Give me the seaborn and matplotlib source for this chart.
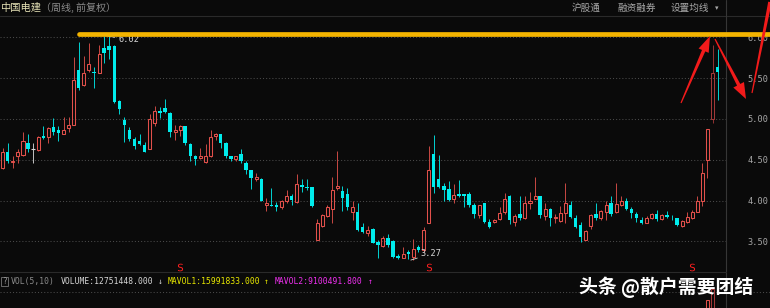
import numpy as np
import pandas as pd
import matplotlib
matplotlib.use("Agg")
import matplotlib.pyplot as plt
import seaborn as sns
from matplotlib.patches import Polygon, Rectangle

# ---------------- data (weekly, forward adjusted) ----------------
opens = [4.40, 4.60, 4.47, 4.55, 4.56, 4.71, 4.63, 4.62, 4.79, 4.78,
         4.90, 4.86, 4.82, 4.89, 4.93, 5.60, 5.42, 5.60, 5.58, 5.56,
         5.87, 5.89, 5.89, 5.22, 4.99, 4.86, 4.75, 4.73, 4.68, 4.63,
         4.95, 5.10, 5.13, 5.07, 4.84, 4.87, 4.91, 4.69, 4.54, 4.52,
         4.47, 4.54, 4.79, 4.82, 4.71, 4.55, 4.51, 4.57, 4.46, 4.37,
         4.26, 4.26, 3.95, 3.95, 3.95, 3.92, 3.99, 4.05, 3.98, 4.19,
         4.17, 4.16, 3.52, 3.69, 3.81, 3.90, 4.15, 4.12, 4.08, 3.86,
         3.86, 3.67, 3.60, 3.65, 3.49, 3.44, 3.54, 3.50, 3.32, 3.30,
         3.37, 3.31, 3.43, 3.39, 3.72, 4.57, 4.26, 4.18, 4.14, 4.02,
         4.08, 4.08, 4.08, 3.95, 3.82, 3.97, 3.74, 3.74, 3.77, 3.86,
         4.06, 3.74, 3.83, 3.78, 3.97, 4.02, 4.05, 3.81, 3.90, 3.78,
         3.75, 3.85, 3.94, 3.79, 3.70, 3.52, 3.69, 3.83, 3.78, 3.86,
         3.97, 3.86, 3.95, 3.99, 3.89, 3.84, 3.76, 3.73, 3.78, 3.83,
         3.77, 3.82, 3.79, 3.78, 3.69, 3.74, 3.78, 3.86, 3.99, 4.50,
         5.00, 5.63]
highs = [4.64, 4.70, 4.55, 4.63, 4.84, 4.82, 4.70, 4.79, 4.91, 4.90,
         5.01, 4.91, 5.02, 5.02, 5.76, 5.94, 5.77, 5.93, 5.64, 5.91,
         6.02, 6.01, 5.91, 5.23, 5.02, 4.90, 4.78, 4.82, 4.72, 5.06,
         5.16, 5.15, 5.24, 5.08, 4.93, 4.93, 4.91, 4.70, 4.56, 4.64,
         4.69, 4.86, 4.83, 4.82, 4.72, 4.55, 4.55, 4.63, 4.48, 4.37,
         4.34, 4.27, 4.03, 4.15, 3.98, 4.01, 4.13, 4.08, 4.33, 4.26,
         4.26, 4.17, 3.77, 3.83, 3.95, 4.29, 4.61, 4.18, 4.15, 4.00,
         3.97, 3.73, 3.69, 3.66, 3.51, 3.57, 3.59, 3.51, 3.34, 3.43,
         3.39, 3.53, 3.46, 3.68, 4.67, 4.80, 4.56, 4.21, 4.24, 4.20,
         4.25, 4.08, 4.10, 3.97, 3.95, 3.97, 3.77, 3.77, 3.92, 4.09,
         4.07, 3.83, 4.05, 4.05, 4.10, 4.29, 4.06, 3.97, 3.91, 3.83,
         3.93, 4.22, 4.00, 3.82, 3.74, 3.64, 3.84, 3.97, 3.88, 4.00,
         4.05, 4.21, 4.06, 4.03, 3.92, 3.86, 3.80, 3.81, 3.85, 3.88,
         3.84, 3.87, 3.82, 3.79, 3.76, 3.86, 3.88, 4.06, 4.46, 4.88,
         5.91, 5.86]
lows = [4.39, 4.46, 4.40, 4.46, 4.55, 4.60, 4.46, 4.61, 4.75, 4.71,
        4.80, 4.73, 4.82, 4.84, 4.93, 5.36, 5.40, 5.58, 5.38, 5.56,
        5.69, 5.74, 5.20, 5.06, 4.72, 4.73, 4.63, 4.68, 4.60, 4.63,
        4.91, 5.01, 5.07, 4.78, 4.74, 4.79, 4.68, 4.49, 4.44, 4.51,
        4.46, 4.53, 4.74, 4.64, 4.52, 4.49, 4.48, 4.46, 4.33, 4.14,
        4.24, 3.99, 3.87, 3.93, 3.87, 3.90, 3.97, 3.95, 3.97, 4.11,
        4.13, 3.92, 3.51, 3.68, 3.80, 3.72, 4.13, 3.87, 3.88, 3.76,
        3.63, 3.60, 3.56, 3.48, 3.29, 3.43, 3.43, 3.30, 3.28, 3.29,
        3.28, 3.27, 3.37, 3.37, 3.72, 4.09, 4.15, 3.99, 3.99, 3.97,
        4.04, 3.92, 3.92, 3.79, 3.79, 3.72, 3.66, 3.72, 3.76, 3.84,
        3.71, 3.69, 3.76, 3.77, 3.89, 4.02, 3.79, 3.76, 3.69, 3.72,
        3.74, 3.73, 3.78, 3.66, 3.49, 3.52, 3.65, 3.76, 3.76, 3.76,
        3.81, 3.85, 3.93, 3.88, 3.79, 3.74, 3.71, 3.72, 3.77, 3.75,
        3.76, 3.78, 3.76, 3.69, 3.68, 3.73, 3.77, 3.86, 3.93, 4.28,
        4.95, 5.23]
closes = [4.60, 4.48, 4.48, 4.60, 4.73, 4.63, 4.63, 4.78, 4.76, 4.89,
          4.84, 4.83, 4.87, 4.92, 5.48, 5.38, 5.56, 5.67, 5.56, 5.80,
          5.81, 5.85, 5.21, 5.12, 4.92, 4.75, 4.67, 4.69, 4.60, 5.00,
          5.10, 5.07, 5.08, 4.84, 4.87, 4.91, 4.70, 4.55, 4.51, 4.55,
          4.55, 4.78, 4.82, 4.70, 4.54, 4.51, 4.55, 4.48, 4.37, 4.27,
          4.29, 4.00, 3.97, 3.93, 3.92, 3.99, 4.05, 4.01, 4.20, 4.16,
          4.15, 3.93, 3.72, 3.82, 3.92, 4.13, 4.18, 4.03, 3.92, 3.92,
          3.64, 3.62, 3.64, 3.48, 3.45, 3.54, 3.46, 3.31, 3.29, 3.35,
          3.35, 3.40, 3.39, 3.64, 4.37, 4.17, 4.17, 4.13, 4.01, 4.07,
          4.05, 4.05, 3.94, 3.84, 3.94, 3.74, 3.68, 3.76, 3.85, 4.02,
          3.76, 3.81, 3.78, 3.97, 3.99, 4.05, 3.82, 3.90, 3.78, 3.80,
          3.85, 3.97, 3.80, 3.68, 3.55, 3.63, 3.82, 3.78, 3.87, 3.94,
          3.83, 3.96, 3.99, 3.90, 3.85, 3.78, 3.73, 3.79, 3.84, 3.77,
          3.82, 3.80, 3.78, 3.70, 3.75, 3.80, 3.86, 4.00, 4.34, 4.88,
          5.56, 5.57]
sell_signals = [35, 84, 136]
peak_label, peak_idx = "6.02", 20
trough_label, trough_idx = "3.27", 81
vol_tail = [2.5e6, 7.0e6, 23.7e6, 34.0e6, 12751448.0]   # last five weeks
y_ticks = [3.50, 4.00, 4.50, 5.00, 5.50, 6.00]
stock_name = "中国电建"
period_text = "（周线, 前复权）"
tabs = ["沪股通", "融资融券", "设置均线"]
vol_texts = [("VOL(5,10)", "#8c8c8c"), ("VOLUME:12751448.000", "#d6d6d6"),
             ("\u2193", "#d6d6d6"), ("MAVOL1:15991833.000", "#e8e800"),
             ("\u2191", "#e8e800"), ("MAVOL2:9100491.800", "#f030f0"),
             ("\u2191", "#f030f0")]
watermark = "头条 @散户需要团结"

df = pd.DataFrame({"open": opens, "high": highs, "low": lows, "close": closes})
df["idx"] = np.arange(len(df))

# ---------------- style ----------------
BG = "#0a0a0a"
RED = "#e2504b"
DARKRED = "#a23838"
CYAN = "#00ecec"
WHITE = "#d8d8d8"
W, H = 770, 308

sns.set_style("dark", {"axes.facecolor": BG, "figure.facecolor": BG})
plt.rcParams["font.family"] = ["Noto Sans CJK SC", "DejaVu Sans"]

fig = plt.figure(figsize=(W / 100, H / 100), dpi=100)
fig.patch.set_facecolor(BG)

def frac(x0, y0, x1, y1):
    return [x0 / W, 1 - y1 / H, (x1 - x0) / W, (y1 - y0) / H]

# price axes: pixel x 0..726, y 17..271
ax = fig.add_axes(frac(0, 17, 726, 271))
ax.set_facecolor(BG)
px_per_idx = 5.07
ax.set_xlim(-2.7 / px_per_idx, (726 - 2.7) / px_per_idx)
ppu = 81.6
ax.set_ylim(6 - (271 - 37.3) / ppu, 6 - (17 - 37.3) / ppu)
for s in ax.spines.values():
    s.set_visible(False)

up = df[df.close > df.open]
dn = df[df.close < df.open]
dj = df[df.close == df.open]
HL = 136 + 4  # highlighted (current) candle drawn darker
up_col = [DARKRED if i == HL else RED for i in up.idx]

wlw = 0.62
# down candles: solid cyan
ax.vlines(dn.idx, dn.low, dn.high, color=CYAN, lw=wlw, zorder=2)
ax.bar(dn.idx, dn.open - dn.close, bottom=dn.close, width=0.68,
       color=CYAN, linewidth=0, zorder=3)
# up candles: hollow red
ax.vlines(up.idx, up.close, up.high, colors=up_col, lw=wlw, zorder=2)
ax.vlines(up.idx, up.low, up.open, colors=up_col, lw=wlw, zorder=2)
ax.bar(up.idx, up.close - up.open, bottom=up.open, width=0.6, fill=False,
       edgecolor=up_col, linewidth=0.75, zorder=3)
# doji
ax.vlines(dj.idx, dj.low, dj.high, color=WHITE, lw=wlw, zorder=2)
ax.hlines(dj.close, dj.idx - 0.35, dj.idx + 0.35, color=WHITE, lw=0.8, zorder=3)

# sell signals
sig = pd.DataFrame({"idx": sell_signals, "y": [6 - (266.5 - 37.3) / ppu] * len(sell_signals)})
sns.scatterplot(data=sig, x="idx", y="y", marker="$\\mathrm{S}$", s=30, color="#ff2020",
                linewidth=0, ax=ax, legend=False, zorder=5)
ax.set_xlabel("")
ax.set_ylabel("")

ax.set_xticks([])
ax.yaxis.tick_right()
ax.set_yticks(y_ticks)
ax.set_yticklabels([f"{v:.2f}" for v in y_ticks], family="DejaVu Sans Mono")
ax.tick_params(axis="y", length=0, pad=15.2, labelsize=6.2, labelcolor="#a6a6a6")
ax.grid(axis="y", color="#4a4a4a", linestyle=(0, (1, 2)), linewidth=0.75)
ax.grid(axis="x", visible=False)

# extreme labels
ax.annotate(peak_label, xy=(peak_idx + 0.3, highs[peak_idx]), xytext=(9, -3),
            textcoords="offset points", color="#d8d8d8", fontsize=6.2,
            family="DejaVu Sans Mono", va="center", ha="left",
            arrowprops=dict(arrowstyle="-", color="#d8d8d8", lw=0.6,
                            shrinkA=0, shrinkB=0))
ax.annotate(trough_label, xy=(trough_idx - 0.5, lows[trough_idx]), xytext=(7, 4.5),
            textcoords="offset points", color="#d8d8d8", fontsize=6.2,
            family="DejaVu Sans Mono", va="center", ha="left",
            arrowprops=dict(arrowstyle="-", color="#d8d8d8", lw=0.6,
                            shrinkA=0, shrinkB=0))

# volume axes (only the top of the tall bars shows)
vax = fig.add_axes(frac(0, 282.4, 726, 326.4))
vax.set_facecolor("none")
vax.set_xlim(ax.get_xlim())
vax.set_ylim(0, 40e6)
vax.axis("off")
vidx = np.arange(len(df) - len(vol_tail), len(df))
for i, v in zip(vidx, vol_tail):
    if closes[i] >= opens[i]:
        vax.bar(i, v, width=0.6, fill=False,
                edgecolor=DARKRED if i == HL else RED, linewidth=0.75)
    else:
        vax.bar(i, v, width=0.68, color=CYAN, linewidth=0)

# ---------------- overlay (pixel coordinates) ----------------
ov = fig.add_axes([0, 0, 1, 1])
ov.set_xlim(0, W)
ov.set_ylim(H, 0)
ov.axis("off")
ov.set_facecolor("none")

# frame lines
ov.plot([0, W], [16, 16], color="#2a2a2a", lw=0.8)
ov.plot([725.7, 725.7], [0, H], color="#363636", lw=0.8)
ov.plot([0, 725.7], [271.7, 271.7], color="#2a2a2a", lw=0.8)
ov.plot([0, W], [292.3, 292.3], color="#4a4a4a", lw=0.75, linestyle=(0, (1, 2)))

# header
ov.text(0, 8, stock_name, color="#e6e2b6", fontsize=7.4, va="center", ha="left")
ov.text(41, 8, period_text, color="#8a8a8a", fontsize=7.2, va="center", ha="left")
for t, x in zip(tabs, [572, 617, 671]):
    ov.text(x, 8, t, color="#a8a8a8", fontsize=6.9, va="center", ha="left")
ov.text(715, 8, "\u25be", color="#a8a8a8", fontsize=5, va="center", ha="left",
        family="DejaVu Sans")

# volume info row
ov.add_patch(Rectangle((0.5, 276.5), 7.5, 9.5, fill=False, ec="#777777", lw=0.6))
ov.text(4.2, 281.5, "?", color="#9a9a9a", fontsize=5.5, va="center", ha="center",
        family="DejaVu Sans Mono")
xs = [11, 61, 158, 168, 264, 275, 368]
for (t, c), x in zip(vol_texts, xs):
    ov.text(x, 281.5, t, color=c, fontsize=5.8, va="center", ha="left",
            family="DejaVu Sans Mono")

# golden line drawn on the chart
ov.plot([79, W + 5], [33.5, 33.5], color="#f4b400", lw=3.4, solid_capstyle="round",
        zorder=6)

def tapered(tail, tip, w0, w1, hl, hw, color="#f21b1b"):
    t = np.array(tail, float)
    p = np.array(tip, float)
    d = p - t
    u = d / np.hypot(*d)
    n = np.array([-u[1], u[0]])
    base = p - u * hl
    pts = [t + n * w0 / 2, base + n * w1 / 2, base + n * hw / 2, p,
           base - n * hw / 2, base - n * w1 / 2, t - n * w0 / 2]
    ov.add_patch(Polygon(pts, closed=True, color=color, lw=0, zorder=7))

tapered((681, 103), (710, 36), 1.2, 3.6, 16, 11)
tapered((715, 39), (746, 99), 1.2, 3.6, 16, 12)
tapered((752, 93), (770, 2), 1.2, 3.6, 0.01, 3.6)

# watermark
ov.text(579, 287, watermark, color="white", fontsize=13.6, fontweight="bold",
        va="center", ha="left", zorder=8)

fig.savefig("out.png", dpi=100, facecolor=BG)
